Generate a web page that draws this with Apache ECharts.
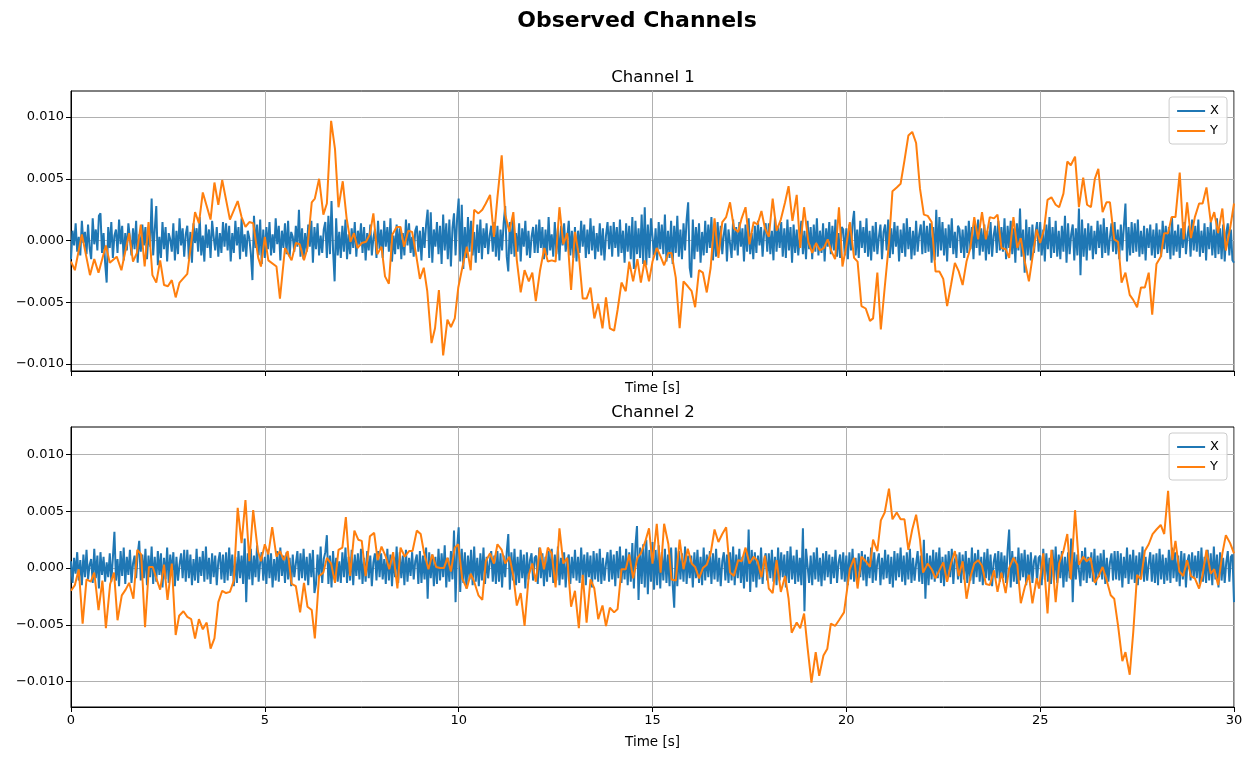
<!DOCTYPE html>
<html>
<head>
<meta charset="utf-8">
<title>Observed Channels</title>
<script src="https://cdn.jsdelivr.net/npm/echarts@6/dist/echarts.min.js"></script>
<style>
  html, body { margin: 0; padding: 0; background: #fff; }
  #main { width: 1252px; height: 759px; }
</style>
</head>
<body>
<div id="main"></div>
<script>
// all amplitudes below are in units of 1e-4
const UNIT = 1e-4;
const DT_X = 0.04; // sample step of the X signal, seconds

const yTicks = [-0.01, -0.005, 0, 0.005, 0.01];

// Channel 1, X (one line per second, 25 samples)
const ch1X = [
  -15, 8, -4, 14, -9, 3, -12, 16, -2, 7, -11, 13, -6, -15, 18, -3, 9, -8, 20, 22, -10, 6, -18, -34, 11,
  -6, 15, -14, 4, 9, -10, 17, -3, 12, -16, 6, -8, 14, 2, -12, 10, -7, 16, -18, 5, -9, 13, -4, 11, -15,
  7, -5, 34, -12, 9, 28, -20, 3, -14, 15, -7, 11, -17, 6, 1, -9, 14, -16, 8, -11, 18, -4, 10, -13, 5,
  12, -15, 7, -18, 14, -2, 10, -9, 19, -12, 4, -17, 13, -6, 9, -14, 16, 3, -8, 11, -13, 6, -10, 15, -5,
  14, -8, 12, -17, 6, -10, 16, -4, 11, -15, 18, -9, 5, -13, 8, 2, -11, -32, 20, -6, 13, -12, 17, -19, 9,
  -14, 11, -7, 15, -12, 5, -10, 18, -3, 12, -16, 8, -6, 14, -11, 16, -13, 7, 3, -9, 12, -5, 25, -13, 10,
  -15, 6, -9, 13, -5, 16, -18, 11, -7, 14, -12, 4, -10, 9, 15, -14, 20, -11, 32, -8, -33, 18, -12, 7, -14,
  12, -9, 17, -15, 5, -11, 10, -6, 15, -13, 8, -4, 14, -10, 11, -16, 6, -8, 13, -12, 2, 9, -14, 16, -7,
  9, -14, 16, -5, 11, -9, 18, -17, 4, -11, 13, -7, 10, -15, 6, -12, 17, -4, 14, -10, 3, -13, 8, 12, -9,
  8, -16, 11, -6, 13, 25, -14, 23, -18, 9, -5, 15, -11, 12, -19, 21, -8, 14, -15, 17, -21, 10, 22, -12, 18,
  34, -17, 29, -23, 11, -14, 19, -9, 16, -12, 7, -18, 13, -10, 17, -15, 10, -6, 14, -11, 4, 12, -9, 15, -13,
  12, -16, 9, -8, 14, 28, -13, -25, 15, -11, 18, -13, 6, -9, 14, -17, 10, -5, 16, -12, 8, -14, 3, 11, -10,
  13, -10, 17, -6, 11, -15, 9, -12, 19, -8, 5, -13, 15, -11, 10, -16, 12, -4, 14, -9, 2, 16, -12, 8, -14,
  11, -17, 8, -10, 16, -5, 13, -14, 9, -11, 18, -8, 12, -15, 6, -9, 14, -12, 10, -16, 4, 15, -7, 12, -13,
  15, -6, 11, -13, 17, -10, 8, -18, 14, -9, 12, -15, 19, -23, 16, -11, 10, -14, 21, -19, 27, -20, 13, -14, 18,
  18, -12, 10, -16, 15, -7, 13, -11, 21, -17, 8, -14, 16, -19, 12, -10, 20, -13, 9, -15, 14, -8, 17, 31, -22,
  -30, 17, -15, 11, -9, 14, -18, 7, -12, 16, -10, 13, -6, 19, -16, 10, -13, 15, -8, 12, -11, 5, 14, -17, 9,
  9, -14, 17, -8, 11, -12, 15, -5, 10, -17, 13, -9, 18, -11, 6, -15, 12, -10, 16, -4, 11, -13, 7, 14, -9,
  14, -11, 8, -16, 19, -9, 12, -6, 15, -13, 10, -14, 17, -8, 11, -18, 13, -10, 9, -12, 4, 16, -11, 8, -15,
  16, -7, 11, -15, 13, -9, 18, -12, 8, -10, 14, -17, 10, -5, 15, -11, 12, -8, 17, -13, 6, -14, 11, 9, -12,
  10, -15, 13, -8, 14, 24, -12, 9, -14, 16, -6, 11, -10, 18, -13, 8, -16, 12, -9, 15, -11, 3, 13, -15, 7,
  13, -8, 17, -14, 10, -11, 15, -5, 12, -17, 9, -10, 14, -13, 18, -7, 11, -15, 8, -12, 16, -9, 5, 13, -11,
  16, -10, 12, -9, 14, -18, 11, -16, 25, -13, 19, -8, 15, -12, 10, -17, 13, -6, 18, -11, 7, -14, 12, 9, -10,
  9, -14, 12, -10, 16, -7, 11, -15, 14, -6, 17, -12, 10, -9, 13, -16, 8, -11, 15, -13, 4, 12, -10, 16, -8,
  11, -9, 18, -15, 12, -6, 16, -11, 10, -18, 14, -8, 26, -13, 9, -26, 17, -12, 11, -16, 13, -10, 6, 15, -9,
  15, -12, 9, -17, 13, -7, 19, -14, 11, -10, 16, -13, 8, -15, 12, -9, 20, -18, 14, -11, 5, 13, -16, 10, -12,
  26, -28, 17, -13, 10, -16, 14, -8, 12, -15, 8, -11, 16, -6, 13, -14, 18, -10, 11, -12, 3, 14, -9, 15, -11,
  9, -15, 13, -8, 12, 30, -17, 11, -12, 15, -10, 14, -9, 17, -13, 8, -11, 12, -16, 10, -6, 13, -12, 9, -14,
  14, -11, 9, -13, 16, -7, 12, -10, 11, -15, 19, -12, 8, -9, 13, -14, 10, -6, 15, -11, 4, 12, -13, 17, -8,
  12, -9, 17, -13, 8, -10, 14, -16, 11, -7, 15, -12, 9, -14, 18, -11, 10, -15, 13, -17, 6, 14, -12, 9, -16,
  -18
];

// Channel 2, X
const ch2X = [
  6, -13, 9, -5, 14, -11, 7, -15, 12, -8, 16, -10, 3, 8, -13, 17, -9, 11, -18, 14, -6, 10, -12, 5, -8,
  13, -12, 9, 32, -11, 8, -16, 15, -7, 18, -14, 10, -6, 16, -13, 4, 11, -9, 12, 24, -11, 12, -9, 17, -15,
  11, -8, 19, -14, 10, -12, 15, -6, 13, -17, 9, -10, 18, -13, 12, -5, 14, -16, 10, -11, 3, 13, -9, 16, -12,
  16, -9, 12, -15, 8, -11, 17, -13, 10, -7, 15, -12, 19, -10, 9, -14, 13, -8, 11, -15, 6, 14, -10, 12, -13,
  14, -11, 18, -7, 12, -16, 10, -13, 15, -9, 11, -14, 26, -30, 13, -10, 17, -15, 11, -8, 20, -12, 5, 14, -11,
  10, -14, 16, -9, 13, -17, 8, -11, 15, -12, 18, -7, 11, -13, 14, -10, 9, -16, 12, -8, 4, 15, -11, 13, -9,
  17, -11, 10, -15, 13, -8, 16, -22, -14, 12, -9, 19, -13, 8, 14, 29, -14, 11, -17, 15, -10, 9, -12, 6, -13,
  14, -8, 18, -13, 10, -11, 16, -15, 12, -7, 13, -10, 17, -14, 9, -12, 15, -9, 11, -16, 5, 13, -11, 15, -8,
  13, -10, 8, -14, 17, -11, 12, -16, 10, -8, 19, -13, 14, -9, 11, -15, 16, -12, 9, -7, 14, -10, 6, 12, -14,
  15, -13, 11, -10, 18, -27, 14, -9, 12, -16, 10, -14, 17, -11, 13, -8, 20, -17, 9, -12, 15, -10, 33, -30, 18,
  36, -21, 17, -13, 14, -18, 11, -10, 16, -15, 19, -12, 9, -16, 13, -11, 18, -14, 10, -9, 5, 15, -12, 11, -14,
  15, -12, 13, -17, 11, -8, 14, 30, -19, 14, -11, 17, -15, 10, -13, 16, -9, 12, -18, 14, -10, 7, 13, -11, 9,
  11, -14, 18, -9, 13, -16, 10, -12, 15, -8, 17, -13, 12, -11, 19, -15, 9, -10, 14, -17, 6, 12, -14, 10, -9,
  16, -11, 10, -13, 18, -9, 12, -15, 14, -8, 11, -17, 15, -10, 13, -12, 17, -14, 9, -11, 4, 14, -12, 16, -10,
  12, -16, 15, -9, 19, -13, 11, -10, 17, -15, 14, -12, 22, -18, 20, 37, -28, 18, -14, 21, -17, 25, -23, 16, -12,
  23, -19, 16, -15, 20, -18, 14, -11, 17, -13, 12, -16, 18, -14, -35, 18, -16, 15, -10, 13, -12, 19, -14, 11, -9,
  11, -17, 14, -9, 16, -13, 10, -15, 18, -11, 12, -8, 15, -14, 13, -10, 17, -12, 9, -16, 6, 14, -11, 12, -13,
  14, -11, 19, -15, 12, -9, 17, -13, 10, -18, 15, -12, 34, -21, 16, -12, 14, -17, 11, -10, 18, -14, 7, 13, -11,
  13, -9, 16, -12, 10, -15, 18, -11, 14, -8, 12, -17, 15, -13, 19, -10, 11, -14, 16, -12, 9, -15, 35, -38, 17,
  17, -13, 11, -15, 14, -10, 18, -12, 9, -16, 13, -11, 15, -8, 12, -14, 10, -9, 16, -13, 5, 12, -10, 14, -12,
  11, -15, 14, -10, 17, -12, 9, -14, 13, -8, 15, -11, 12, -16, 10, -9, 18, -13, 14, -11, 6, 13, -15, 9, -10,
  16, -9, 12, -14, 10, -17, 15, -11, 13, -8, 18, -12, 11, -15, 14, -10, 17, -13, 9, -11, 4, 15, -12, 11, -14,
  25, -27, 13, -15, 11, -10, 16, -12, 14, -9, 18, -13, 10, -16, 12, -11, 15, -8, 17, -14, 7, 12, -10, 14, -13,
  12, -10, 15, -13, 9, -11, 18, -14, 13, -8, 16, -12, 10, -15, 14, -9, 17, -11, 12, -16, 5, 13, -9, 15, -12,
  14, -9, 11, -13, 16, 34, -17, 15, -12, 10, -14, 18, -11, 13, -8, 16, -15, 12, -10, 14, -13, 6, 11, -12, 9,
  11, -15, 17, -10, 13, -12, 9, -14, 16, -11, 19, -13, 12, -9, 15, -17, 10, -12, 14, -9, 26, -30, 14, -10, 12,
  12, -16, 15, -11, 18, -13, 10, -9, 14, -12, 17, -15, 11, -8, 13, -10, 16, -14, 9, -12, 5, 13, -11, 15, -10,
  15, -11, 13, -17, 10, -9, 18, -14, 12, -10, 16, -13, 11, -15, 14, -8, 19, -12, 10, -11, 4, 14, -12, 12, -13,
  13, -15, 17, -10, 12, -14, 9, -11, 16, -13, 18, -9, 14, -12, 11, -16, 15, -10, 13, -17, 6, 12, -11, 14, -9,
  11, -9, 15, -14, 18, -12, 10, -13, 16, -11, 13, -15, 19, -10, 12, -17, 14, -11, 9, -13, 5, 15, -12, 10, 12,
  -30
];

// Channel 1, Y: sample times (s) and values
const ch1YTime = [
  0, 0.1, 0.28, 0.49, 0.6, 0.71, 0.9, 1.0, 1.18, 1.3, 1.5, 1.6, 1.7, 1.8, 1.9, 2.0, 2.1, 2.2, 2.3, 2.4,
  2.5, 2.6, 2.7, 2.8, 3.0, 3.2, 3.3, 3.4, 3.6, 3.7, 3.8, 3.9, 4.1, 4.3, 4.4, 4.5, 4.6, 4.7, 4.83, 4.9,
  5.0, 5.09, 5.3, 5.39, 5.52, 5.69, 5.8, 5.9, 6.01, 6.1, 6.21, 6.29, 6.4, 6.51, 6.6, 6.71, 6.81, 6.9, 7.01, 7.11,
  7.21, 7.3, 7.39, 7.5, 7.61, 7.71, 7.8, 7.9, 8.01, 8.1, 8.2, 8.29, 8.4, 8.5, 8.59, 8.7, 8.8, 8.9, 9.0, 9.1,
  9.19, 9.3, 9.39, 9.49, 9.6, 9.71, 9.8, 9.9, 9.99, 10.1, 10.21, 10.31, 10.4, 10.51, 10.61, 10.7, 10.81, 10.91, 11.0, 11.11,
  11.2, 11.31, 11.41, 11.5, 11.6, 11.7, 11.81, 11.9, 11.99, 12.1, 12.21, 12.3, 12.4, 12.5, 12.6, 12.7, 12.8, 12.9, 13.0, 13.1,
  13.2, 13.3, 13.4, 13.5, 13.6, 13.71, 13.8, 13.9, 14.01, 14.1, 14.2, 14.31, 14.4, 14.5, 14.61, 14.7, 14.8, 14.91, 15.0, 15.11,
  15.21, 15.3, 15.41, 15.49, 15.6, 15.7, 15.8, 15.91, 16.01, 16.1, 16.2, 16.3, 16.4, 16.5, 16.6, 16.7, 16.8, 16.9, 17.0, 17.1,
  17.21, 17.3, 17.4, 17.5, 17.61, 17.71, 17.81, 17.9, 18.0, 18.1, 18.2, 18.31, 18.42, 18.51, 18.61, 18.72, 18.81, 18.91, 19.02, 19.12,
  19.22, 19.32, 19.42, 19.52, 19.62, 19.71, 19.81, 19.9, 19.99, 20.09, 20.2, 20.29, 20.39, 20.5, 20.61, 20.69, 20.8, 20.89, 20.99, 21.1,
  21.19, 21.3, 21.4, 21.5, 21.6, 21.7, 21.8, 21.9, 22.0, 22.1, 22.2, 22.3, 22.4, 22.5, 22.6, 22.7, 22.8, 22.9, 23.0, 23.1,
  23.2, 23.3, 23.4, 23.5, 23.6, 23.7, 23.81, 23.9, 24.0, 24.11, 24.2, 24.31, 24.41, 24.5, 24.61, 24.71, 24.8, 24.91, 25.0, 25.1,
  25.19, 25.29, 25.4, 25.49, 25.6, 25.7, 25.79, 25.9, 26.0, 26.11, 26.21, 26.31, 26.41, 26.5, 26.61, 26.71, 26.8, 26.91, 27.01, 27.1,
  27.2, 27.31, 27.4, 27.5, 27.6, 27.7, 27.8, 27.89, 28.0, 28.11, 28.2, 28.3, 28.39, 28.49, 28.6, 28.7, 28.79, 28.89, 28.99, 29.1,
  29.19, 29.29, 29.4, 29.49, 29.59, 29.7, 29.79, 29.9, 30.0
];
const ch1Y = [
  -17, -24, 5, -28, -15, -26, -4, -18, -13, -24, 6, -17, -10, 13, -21, 15, -28, -34, -16, -36,
  -37, -32, -46, -34, -27, 23, 14, 39, 17, 47, 29, 49, 17, 32, 19, 11, 15, 14, -14, -21,
  3, -16, -21, -47, -6, -16, -2, -3, -16, -6, 31, 34, 50, 21, 30, 97, 74, 27, 48, 18,
  -1, 6, -6, -2, -1, 5, 22, -11, -5, -29, -35, 5, 11, 11, -5, 8, 7, -11, -31, -22,
  -41, -83, -71, -40, -93, -64, -70, -63, -38, -21, -5, -24, 25, 22, 25, 30, 37, 3, 35, 69,
  21, 7, 23, -16, -42, -24, -33, -26, -49, -24, -6, -17, -16, -17, 27, -3, 6, -40, 7, -12,
  -47, -47, -38, -63, -51, -71, -46, -71, -73, -56, -34, -41, -17, -33, -15, -34, -16, -33, -17, -6,
  -13, -20, -10, -10, -30, -71, -33, -37, -41, -54, -24, -26, -42, -22, 18, -14, 15, 19, 31, 10,
  7, 18, 27, -3, 15, 13, 24, 10, 3, 34, 8, 17, 31, 44, 16, 37, -6, 27, -1, -10,
  -2, -8, -6, 1, -9, -15, 27, -21, -6, 15, -14, -17, -53, -55, -65, -63, -26, -72, -38, -2,
  40, 43, 46, 65, 85, 88, 79, 42, 21, 20, 15, -25, -25, -31, -53, -36, -18, -25, -36, -17,
  -6, 19, 1, 23, 1, 19, 18, 21, -6, -7, -14, 19, -6, 2, -18, -33, -14, 9, -2, 9,
  33, 35, 29, 27, 38, 64, 61, 68, 27, 51, 29, 27, 50, 58, 23, 31, 31, 1, -1, -34,
  -26, -44, -48, -54, -38, -38, -26, -60, -19, -13, 6, 6, 19, 19, 55, 1, 31, 2, 19, 30,
  30, 43, 15, 23, 6, 26, -8, 10, 30
];

// Channel 2, Y
const ch2YTime = [
  0, 0.1, 0.2, 0.3, 0.4, 0.51, 0.6, 0.71, 0.81, 0.9, 1.01, 1.11, 1.2, 1.31, 1.41, 1.5, 1.61, 1.71, 1.81, 1.91,
  2.01, 2.11, 2.21, 2.3, 2.4, 2.49, 2.6, 2.7, 2.79, 2.9, 3.0, 3.1, 3.2, 3.3, 3.4, 3.5, 3.6, 3.7, 3.8, 3.9,
  4.0, 4.1, 4.2, 4.3, 4.4, 4.5, 4.6, 4.7, 4.82, 4.9, 5.0, 5.09, 5.19, 5.3, 5.39, 5.49, 5.59, 5.69, 5.8, 5.91,
  6.01, 6.1, 6.21, 6.29, 6.4, 6.51, 6.6, 6.71, 6.81, 6.9, 7.0, 7.09, 7.2, 7.31, 7.41, 7.5, 7.6, 7.71, 7.82, 7.91,
  8.01, 8.12, 8.21, 8.31, 8.42, 8.5, 8.61, 8.72, 8.81, 8.92, 9.02, 9.11, 9.22, 9.32, 9.42, 9.52, 9.62, 9.71, 9.8, 9.9,
  9.99, 10.09, 10.21, 10.31, 10.4, 10.51, 10.61, 10.7, 10.81, 10.91, 11.0, 11.11, 11.2, 11.31, 11.41, 11.5, 11.6, 11.7, 11.81, 11.9,
  11.99, 12.1, 12.2, 12.3, 12.4, 12.5, 12.6, 12.7, 12.8, 12.9, 13.0, 13.1, 13.2, 13.3, 13.4, 13.5, 13.6, 13.71, 13.8, 13.9,
  14.01, 14.1, 14.2, 14.31, 14.4, 14.5, 14.61, 14.7, 14.81, 14.91, 15.0, 15.11, 15.21, 15.3, 15.41, 15.49, 15.6, 15.7, 15.8, 15.91,
  16.01, 16.1, 16.2, 16.3, 16.4, 16.5, 16.6, 16.7, 16.8, 16.9, 17.0, 17.1, 17.21, 17.3, 17.4, 17.5, 17.61, 17.71, 17.81, 17.9,
  18.0, 18.1, 18.2, 18.31, 18.42, 18.51, 18.59, 18.72, 18.81, 18.91, 19.0, 19.1, 19.21, 19.3, 19.41, 19.51, 19.6, 19.71, 19.81, 19.94,
  20.09, 20.2, 20.29, 20.39, 20.5, 20.61, 20.69, 20.8, 20.89, 20.99, 21.1, 21.19, 21.3, 21.4, 21.5, 21.6, 21.7, 21.8, 21.9, 21.98,
  22.1, 22.2, 22.3, 22.4, 22.5, 22.6, 22.7, 22.8, 22.9, 23.0, 23.1, 23.2, 23.3, 23.4, 23.5, 23.6, 23.7, 23.81, 23.9, 24.0,
  24.11, 24.2, 24.31, 24.41, 24.5, 24.61, 24.71, 24.8, 24.91, 24.97, 25.08, 25.19, 25.29, 25.4, 25.49, 25.6, 25.7, 25.79, 25.9, 26.0,
  26.11, 26.2, 26.3, 26.41, 26.51, 26.61, 26.71, 26.82, 26.91, 27.01, 27.12, 27.2, 27.31, 27.4, 27.5, 27.6, 27.7, 27.8, 27.9, 28.0,
  28.11, 28.2, 28.3, 28.41, 28.49, 28.59, 28.69, 28.79, 28.89, 28.99, 29.1, 29.19, 29.29, 29.4, 29.49, 29.59, 29.7, 29.79, 29.9, 30.0
];
const ch2Y = [
  -20, -15, -1, -49, -10, -12, -4, -37, -11, -53, -14, -4, -46, -24, -19, -13, -27, 16, 12, -52,
  1, 1, -10, -19, 3, -28, 4, -59, -42, -38, -43, -45, -62, -45, -54, -48, -71, -62, -30, -20,
  -22, -21, -11, 53, 22, 60, 6, 51, 15, 6, 21, 12, 36, 10, 15, 7, 15, -14, -16, -39,
  -13, -34, -37, -62, -7, -4, 9, 4, -13, 16, 18, 45, -7, 33, 25, 24, -7, 28, 31, 7,
  19, 10, -1, 14, -18, 18, 10, 15, 15, 33, 30, 13, -1, 12, 1, 0, 0, 9, -3, 18,
  21, -9, -18, -5, -12, -24, -28, 6, 13, 4, 21, 16, 4, 10, -7, -33, -22, -51, -6, 4,
  -12, 18, -1, 18, 13, -17, 35, 4, 9, -34, -20, -53, -6, -48, -10, -18, -45, -33, -51, -35,
  -39, -36, -1, -1, 12, -9, 9, 13, 23, 35, 4, 39, -4, 39, 21, -10, -11, 25, -1, 17,
  4, 1, -9, 0, 3, 13, 34, 23, 30, 36, -4, -7, 7, 6, 18, 4, 10, 6, -8, 11,
  -18, -22, 7, -21, -7, -27, -57, -48, -53, -40, -70, -101, -74, -95, -77, -71, -49, -51, -46, -39,
  -1, 9, -18, 10, 6, 1, 25, 15, 42, 49, 70, 43, 49, 43, 43, 16, 34, 47, 25, -4,
  4, -1, -9, -2, 5, -12, 4, 15, -7, 6, -27, -8, 4, 7, 2, -14, -15, -2, -21, -4,
  -22, 0, 9, 3, -31, -16, -6, -31, -9, -18, 13, -40, 16, -30, 4, 15, 30, -10, 51, 3,
  10, 6, 9, -13, -7, 1, -10, -24, -27, -51, -82, -74, -94, -57, -6, -10, 15, 21, 30, 34,
  38, 30, 68, 7, 24, -3, -7, 7, -7, -9, -18, -6, 16, -5, -1, -15, 13, 29, 22, 13
];

const FONT = 'DejaVu Sans';
const BLUE = '#1f77b4';
const ORANGE = '#ff7f0e';

function evenSeries(vals) {
  return vals.map((v, i) => [i * DT_X, v * UNIT]);
}
function timedSeries(times, vals) {
  return times.map((t, i) => [t, vals[i] * UNIT]);
}
function tickFmt(v) {
  return v.toFixed(3).replace('-', '\u2212');
}

function makeXAxis(gridIndex, showLabels, nameGap) {
  return {
    type: 'value', gridIndex: gridIndex, min: 0, max: 30, interval: 5,
    name: 'Time [s]', nameLocation: 'middle', nameGap: nameGap,
    nameTextStyle: { fontFamily: FONT, fontSize: 13.5, color: '#000' },
    axisLine: { show: true, onZero: false, lineStyle: { color: '#000', width: 1 } },
    axisTick: { show: true, length: 5, lineStyle: { color: '#000' } },
    axisLabel: { show: showLabels, fontFamily: FONT, fontSize: 13, color: '#000', margin: 7 },
    splitLine: { show: true, lineStyle: { color: '#b0b0b0', width: 1 } }
  };
}
function makeYAxis(gridIndex, min, max) {
  return {
    type: 'value', gridIndex: gridIndex, min: min, max: max,
    axisLine: { show: true, lineStyle: { color: '#000', width: 1 } },
    axisTick: { show: true, length: 5, lineStyle: { color: '#000' }, customValues: yTicks },
    axisLabel: { fontFamily: FONT, fontSize: 13, color: '#000', margin: 7, formatter: tickFmt, customValues: yTicks },
    splitLine: { show: true, lineStyle: { color: '#b0b0b0', width: 1 } }
  };
}
function makeLine(name, color, data, axis) {
  return {
    name: name, type: 'line', xAxisIndex: axis, yAxisIndex: axis, data: data,
    symbol: 'none', color: color, lineStyle: { color: color, width: 2 },
    sampling: null, silent: true, animation: false
  };
}
function makeLegend(top) {
  return {
    orient: 'vertical', right: 25, top: top, data: ['X', 'Y'],
    icon: 'rect', itemWidth: 28, itemHeight: 2, itemGap: 6,
    backgroundColor: 'rgba(255,255,255,0.8)', borderColor: '#cccccc', borderWidth: 1, borderRadius: 3,
    padding: [7, 8, 6, 8],
    textStyle: { fontFamily: FONT, fontSize: 13, color: '#000', lineHeight: 14 }
  };
}

const chart = echarts.init(document.getElementById('main'), null, { renderer: 'canvas' });
chart.setOption({
  animation: false,
  backgroundColor: '#fff',
  title: [
    { text: 'Observed Channels', left: 632, textAlign: 'center', top: 5, textStyle: { fontFamily: FONT, fontSize: 22, fontWeight: 'bold', color: '#000' } },
    { text: 'Channel 1', left: 648, textAlign: 'center', top: 64, textStyle: { fontFamily: FONT, fontSize: 16.5, fontWeight: 'normal', color: '#000' } },
    { text: 'Channel 2', left: 648, textAlign: 'center', top: 399, textStyle: { fontFamily: FONT, fontSize: 16.5, fontWeight: 'normal', color: '#000' } }
  ],
  legend: [makeLegend(97), makeLegend(433)],
  grid: [
    { left: 71, top: 91, width: 1163, height: 280, show: true, borderColor: '#000', borderWidth: 1, containLabel: false },
    { left: 71, top: 427, width: 1163, height: 280, show: true, borderColor: '#000', borderWidth: 1, containLabel: false }
  ],
  xAxis: [makeXAxis(0, false, 10), makeXAxis(1, true, 28)],
  yAxis: [makeYAxis(0, -0.01056, 0.01211), makeYAxis(1, -0.01224, 0.01243)],
  series: [
    makeLine('X', BLUE, evenSeries(ch1X), 0),
    makeLine('Y', ORANGE, timedSeries(ch1YTime, ch1Y), 0),
    makeLine('X', BLUE, evenSeries(ch2X), 1),
    makeLine('Y', ORANGE, timedSeries(ch2YTime, ch2Y), 1)
  ]
});
</script>
</body>
</html>
